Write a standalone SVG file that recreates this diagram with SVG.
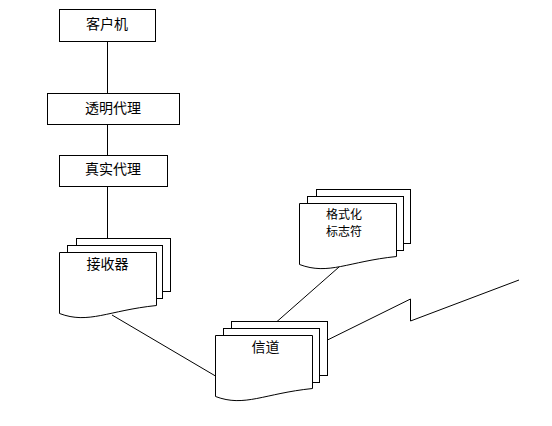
<svg xmlns="http://www.w3.org/2000/svg" width="552" height="426" viewBox="0 0 552 426">
<style>
.b{fill:#fff;stroke:#000;stroke-width:1}
.c{fill:none;stroke:#000;stroke-width:1}
.t{font-family:"Noto Sans CJK SC","Noto Sans CJK JP",sans-serif;font-size:14px;fill:#000;text-anchor:middle}
.s{font-size:12px}
</style>
<rect width="552" height="426" fill="#fff"/>
<g id="connectors">
<line class="c" x1="107.5" y1="41.5" x2="107.5" y2="93.5"/>
<line class="c" x1="107.5" y1="124.5" x2="107.5" y2="155.5"/>
<line class="c" x1="107.5" y1="186.5" x2="107.5" y2="238.5"/>
<line class="c" x1="112" y1="315" x2="215.5" y2="376"/>
<line class="c" x1="277" y1="321.5" x2="339" y2="267"/>
<polyline class="c" points="327.5,340 410.5,299 410.5,321 519,280"/>
</g>
<g id="client">
<rect class="b" x="59.5" y="9.5" width="96" height="32"/>
<text class="t" x="107" y="28.5">客户机</text>
</g>
<g id="transparent-proxy">
<rect class="b" x="47.5" y="93.5" width="132" height="31"/>
<text class="t" x="113" y="112.5">透明代理</text>
</g>
<g id="real-proxy">
<rect class="b" x="59.5" y="155.5" width="108" height="31"/>
<text class="t" x="113" y="174">真实代理</text>
</g>
<g id="receiver">
<rect class="b" x="76.5" y="238.5" width="94" height="53"/>
<rect class="b" x="67.5" y="245.5" width="95" height="53"/>
<path class="b" d="M59.5 252.5 H156.5 V305.5 C108 310.5 88.6 324.5 59.5 313.5 Z"/>
<text class="t" x="107.5" y="268.5">接收器</text>
</g>
<g id="channel">
<rect class="b" x="231.5" y="321.5" width="96" height="54"/>
<rect class="b" x="223.5" y="328.5" width="96" height="54"/>
<path class="b" d="M215.5 335.5 H312.5 V388.5 C264 393.5 244.6 407.5 215.5 396.5 Z"/>
<text class="t" x="265.5" y="352">信道</text>
</g>
<g id="format-flag">
<rect class="b" x="316.5" y="189.5" width="94" height="54"/>
<rect class="b" x="307.5" y="196.5" width="96" height="54"/>
<path class="b" d="M299.5 203.5 H396.5 V256.5 C348 261.5 328.6 275.5 299.5 264.5 Z"/>
<text class="t s" x="344" y="218.5">格式化</text>
<text class="t s" x="344" y="236">标志符</text>
</g>
</svg>
